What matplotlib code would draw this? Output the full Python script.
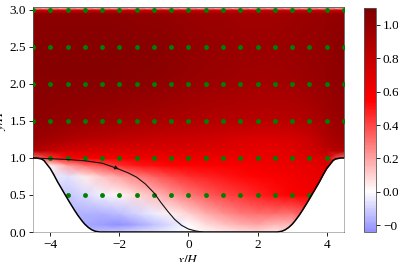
import numpy as np
import matplotlib
matplotlib.use("Agg")
import matplotlib.pyplot as plt
from matplotlib.colors import ListedColormap, Normalize

plt.rcParams["font.family"] = "Liberation Serif"
plt.rcParams["mathtext.fontset"] = "stix"
plt.rcParams["font.size"] = 9.5


# ─── DATA ───────────────────────────────────────────────────────────────────

# mean streamwise velocity u/U_b on a coarse x-y grid
X_NODES = [-4.5, -4.0, -3.5, -3.0, -2.5, -2.0, -1.5, -1.0, -0.5, 0.0,
           0.5, 1.0, 1.5, 2.0, 2.5, 3.0, 3.5, 4.0, 4.5]
Y_NODES = [0.0, 0.1, 0.25, 0.5, 0.75, 0.9, 1.0, 1.1, 1.25, 1.5,
           2.0, 2.5, 2.95, 3.0, 3.036]
U_FIELD = [
    [-0.05, -0.10, -0.14, -0.15, -0.13, -0.10, -0.08, -0.06, -0.03, 0.00, 0.02, 0.05, 0.07, 0.08, 0.06, 0.10, 0.25, 0.40, 0.50],
    [-0.08, -0.12, -0.16, -0.18, -0.21, -0.23, -0.19, -0.13, -0.07, 0.00, 0.07, 0.13, 0.17, 0.19, 0.15, 0.15, 0.30, 0.45, 0.50],
    [-0.08, -0.12, -0.15, -0.17, -0.17, -0.14, -0.09, -0.04, 0.03, 0.10, 0.18, 0.24, 0.29, 0.31, 0.31, 0.30, 0.40, 0.50, 0.55],
    [-0.06, -0.10, -0.12, -0.08, -0.03, 0.02, 0.08, 0.14, 0.22, 0.29, 0.35, 0.40, 0.44, 0.48, 0.52, 0.56, 0.60, 0.65, 0.70],
    [-0.02, -0.05, -0.06, 0.04, 0.13, 0.20, 0.27, 0.34, 0.40, 0.45, 0.48, 0.50, 0.53, 0.55, 0.57, 0.60, 0.63, 0.65, 0.70],
    [0.05, 0.02, 0.20, 0.31, 0.39, 0.45, 0.50, 0.52, 0.54, 0.55, 0.56, 0.57, 0.58, 0.60, 0.62, 0.64, 0.66, 0.68, 0.60],
    [0.30, 0.45, 0.55, 0.58, 0.60, 0.60, 0.61, 0.62, 0.62, 0.63, 0.63, 0.63, 0.63, 0.63, 0.64, 0.66, 0.68, 0.72, 0.30],
    [0.90, 0.80, 0.74, 0.72, 0.71, 0.70, 0.70, 0.70, 0.70, 0.70, 0.69, 0.68, 0.67, 0.66, 0.66, 0.68, 0.74, 0.82, 0.90],
    [0.98, 0.95, 0.90, 0.86, 0.84, 0.82, 0.80, 0.79, 0.78, 0.77, 0.75, 0.73, 0.71, 0.70, 0.70, 0.72, 0.77, 0.88, 0.96],
    [1.03, 1.02, 1.00, 0.98, 0.96, 0.95, 0.93, 0.92, 0.90, 0.89, 0.87, 0.86, 0.85, 0.84, 0.84, 0.85, 0.88, 0.94, 1.00],
    [1.06, 1.06, 1.06, 1.06, 1.06, 1.05, 1.04, 1.03, 1.01, 0.99, 0.97, 0.96, 0.95, 0.94, 0.94, 0.95, 0.97, 1.00, 1.03],
    [1.07, 1.07, 1.07, 1.07, 1.07, 1.07, 1.06, 1.06, 1.04, 1.02, 1.00, 0.99, 0.98, 0.98, 0.98, 0.99, 1.00, 1.02, 1.05],
    [1.04, 1.04, 1.04, 1.04, 1.04, 1.03, 1.02, 1.01, 1.00, 0.98, 0.97, 0.96, 0.95, 0.95, 0.95, 0.96, 0.98, 1.00, 1.02],
    [0.75] * 19,
    [0.00] * 19,
]

# hill profile: distance from crest and wall height (both in H)
HILL_DIST = [0.0, 0.1, 0.25, 0.32, 0.5, 0.6, 0.71, 0.8, 0.9, 1.0,
             1.07, 1.2, 1.3, 1.43, 1.5, 1.6, 1.7, 1.8, 1.93]
HILL_HEIGHT = [1.0, 1.0, 0.986, 0.964, 0.857, 0.776, 0.679, 0.607, 0.527, 0.448,
               0.393, 0.295, 0.224, 0.143, 0.105, 0.062, 0.030, 0.010, 0.0]

# dividing streamline of the recirculation bubble
SL_X = [-4.5, -4.0, -3.5, -3.0, -2.5, -2.1, -1.75, -1.5, -1.25, -1.0,
        -0.8, -0.6, -0.4, -0.2, 0.0, 0.2, 0.4]
SL_Y = [1.0, 0.99, 0.98, 0.962, 0.93, 0.865, 0.80, 0.74, 0.65, 0.53,
        0.40, 0.28, 0.17, 0.09, 0.04, 0.015, 0.0]
ARROW_AT = 5

# probe locations
PROBE_X = [-4.5, -4.0, -3.5, -3.0, -2.5, -2.0, -1.5, -1.0, -0.5, 0.0,
           0.5, 1.0, 1.5, 2.0, 2.5, 3.0, 3.5, 4.0, 4.5]
PROBE_Y = [0.5, 1.0, 1.5, 2.0, 2.5, 3.0]

X_LIM = (-4.5, 4.5)
Y_LIM = (0.0, 3.036)
U_MIN, U_MAX = -0.24, 1.1


# ─── GEOMETRY ────────────────────────────────────────────────────────────────

d = np.array(HILL_DIST)
h = np.array(HILL_HEIGHT)
wall_x = np.concatenate([X_LIM[0] + d, (X_LIM[1] - d)[::-1]])
wall_y = np.concatenate([h, h[::-1]])

# seismic centred on zero (±1.1), keeping only the part the data covers
seis = plt.get_cmap("seismic")
lo = (U_MIN + U_MAX) / (2 * U_MAX)
cmap = ListedColormap(seis(np.linspace(lo, 1.0, 256)))
norm = Normalize(U_MIN, U_MAX)


# ─── PLOT ────────────────────────────────────────────────────────────────────

fig = plt.figure(figsize=(3.98, 2.62), dpi=100)
ax = fig.add_axes([0.0829, 0.1145, 0.7814, 0.8576])
cax = fig.add_axes([0.9146, 0.1145, 0.0302, 0.8546])

XX, YY = np.meshgrid(X_NODES, Y_NODES)
mesh = ax.pcolormesh(XX, YY, np.array(U_FIELD), shading="gouraud",
                     cmap=cmap, norm=norm, zorder=1)

px, py = np.meshgrid(PROBE_X, PROBE_Y)
px, py = px.ravel(), py.ravel()
keep = py > np.interp(px, wall_x, wall_y) + 0.02
ax.plot(px[keep], py[keep], "o", color="green", ms=3.5, mec="none", zorder=3)

ax.fill_between(wall_x, 0, wall_y, color="white", lw=0, zorder=4)
ax.plot(wall_x, wall_y, color="black", lw=1.1, zorder=5)

ax.plot(SL_X, SL_Y, color="#111111", lw=0.8, zorder=5)
ax.annotate("", xy=(SL_X[ARROW_AT] + 0.08, SL_Y[ARROW_AT] - 0.015),
            xytext=(SL_X[ARROW_AT] - 0.05, SL_Y[ARROW_AT] + 0.012),
            arrowprops=dict(arrowstyle="-|>", color="#111111", lw=0.6,
                            mutation_scale=6), zorder=6)

ax.set_xlim(*X_LIM)
ax.set_ylim(*Y_LIM)
ax.set_xticks([-4, -2, 0, 2, 4])
ax.set_yticks([0.0, 0.5, 1.0, 1.5, 2.0, 2.5, 3.0])
ax.set_xlabel(r"$x/H$", labelpad=2)
ax.set_ylabel(r"$y/H$", labelpad=1)
ax.tick_params(length=3, width=0.6, pad=2)
for s in ax.spines.values():
    s.set_linewidth(0.6)
    s.set_color("#555555")

cb = fig.colorbar(mesh, cax=cax, ticks=[-0.2, 0.0, 0.2, 0.4, 0.6, 0.8, 1.0])
cb.outline.set_linewidth(0.6)
cb.outline.set_edgecolor("#555555")
cb.ax.tick_params(length=3, width=0.6, pad=2)

fig.savefig("out.png", dpi=100)
